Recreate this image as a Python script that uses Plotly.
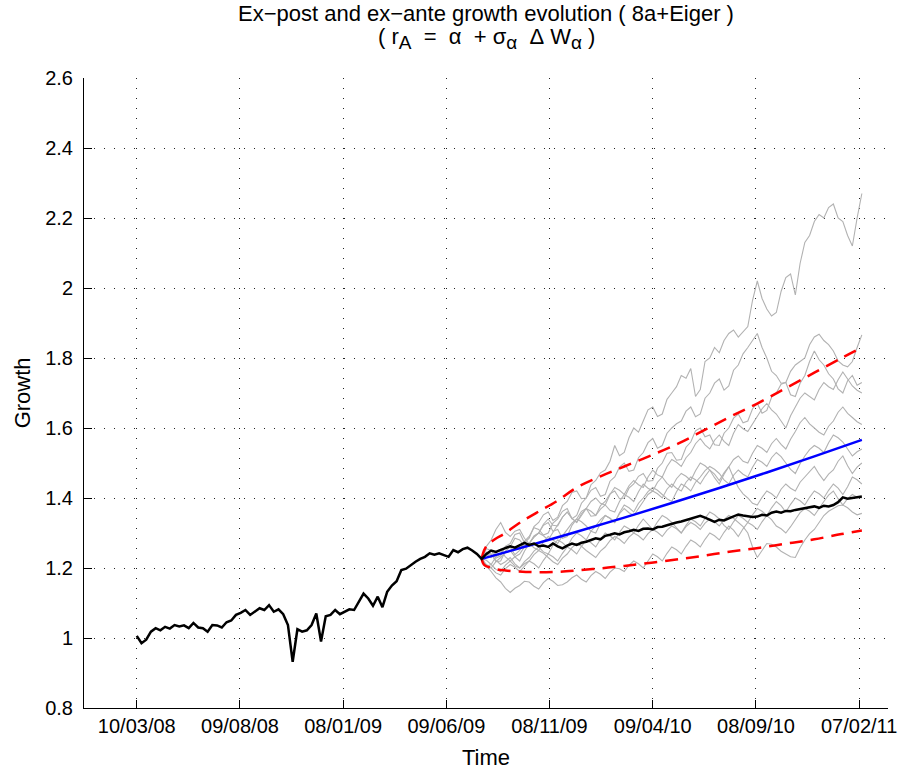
import pandas as pd
import plotly.graph_objects as go

# ---- observed (ex-post) growth ----
hist_start, split_date, end_date = "2008-03-10", "2009-07-31", "2011-02-11"

hist_growth = [
    1.006, 0.985, 0.995, 1.018, 1.028, 1.022, 1.032, 1.027, 1.037, 1.033,
    1.036, 1.028, 1.043, 1.030, 1.028, 1.018, 1.037, 1.036, 1.030, 1.045,
    1.050, 1.066, 1.072, 1.080, 1.066, 1.076, 1.085, 1.080, 1.094, 1.075,
    1.082, 1.068, 1.037, 0.932, 1.025, 1.018, 1.022, 1.037, 1.070, 0.990,
    1.062, 1.066, 1.080, 1.068, 1.076, 1.082, 1.080, 1.105, 1.127, 1.113,
    1.092, 1.118, 1.088, 1.132, 1.150, 1.162, 1.194, 1.198, 1.209, 1.218,
    1.226, 1.232, 1.242, 1.238, 1.242, 1.236, 1.232, 1.251, 1.245, 1.254,
    1.258, 1.250, 1.240, 1.226,
]

post_growth = [
    1.226, 1.240, 1.250, 1.246, 1.252, 1.256, 1.262, 1.258, 1.266, 1.272,
    1.266, 1.270, 1.262, 1.264, 1.260, 1.270, 1.262, 1.256, 1.264, 1.270,
    1.266, 1.272, 1.275, 1.280, 1.285, 1.282, 1.292, 1.295, 1.299, 1.296,
    1.302, 1.305, 1.309, 1.306, 1.312, 1.313, 1.310, 1.317, 1.318, 1.322,
    1.327, 1.330, 1.333, 1.337, 1.340, 1.346, 1.349, 1.344, 1.338, 1.332,
    1.338, 1.336, 1.342, 1.348, 1.353, 1.350, 1.348, 1.346, 1.347, 1.352,
    1.350, 1.358, 1.361, 1.358, 1.363, 1.362, 1.366, 1.368, 1.371, 1.374,
    1.376, 1.372, 1.378, 1.376, 1.380, 1.388, 1.402, 1.398, 1.400, 1.404,
    1.404,
]

# ---- simulated (ex-ante) paths, sampled weekly from the split date ----
sim_paths = [
    [1.226, 1.255, 1.25, 1.228, 1.235, 1.262, 1.27, 1.296, 1.30, 1.272, 1.285, 1.318, 1.33,
     1.352, 1.36, 1.336, 1.345, 1.378, 1.39, 1.416, 1.42, 1.398, 1.40, 1.438, 1.45, 1.472,
     1.48, 1.505, 1.55, 1.521, 1.53, 1.572, 1.60, 1.588, 1.62, 1.652, 1.66, 1.633, 1.64,
     1.682, 1.70, 1.718, 1.75, 1.742, 1.77, 1.69, 1.71, 1.79, 1.80, 1.83, 1.815, 1.85, 1.87,
     1.88, 1.86, 1.875, 1.89, 1.965, 2.02, 1.97, 1.94, 1.92, 1.93, 1.99, 2.03, 2.04, 1.98,
     2.07, 2.13, 2.15, 2.19, 2.21, 2.20, 2.23, 2.24, 2.20, 2.19, 2.15, 2.12, 2.20, 2.27],
    [1.226, 1.205, 1.21, 1.232, 1.24, 1.262, 1.26, 1.238, 1.25, 1.276, 1.29, 1.315, 1.31,
     1.294, 1.30, 1.328, 1.34, 1.362, 1.37, 1.341, 1.35, 1.385, 1.40, 1.422, 1.43, 1.405,
     1.41, 1.448, 1.46, 1.488, 1.50, 1.476, 1.48, 1.515, 1.53, 1.558, 1.57, 1.542, 1.55,
     1.585, 1.60, 1.612, 1.62, 1.648, 1.66, 1.632, 1.64, 1.685, 1.70, 1.728, 1.74, 1.708,
     1.72, 1.765, 1.78, 1.812, 1.83, 1.852, 1.87, 1.83, 1.80, 1.762, 1.75, 1.728, 1.73,
     1.762, 1.78, 1.79, 1.80, 1.838, 1.86, 1.868, 1.85, 1.838, 1.82, 1.792, 1.78, 1.775,
     1.79, 1.83, 1.866],
    [1.226, 1.245, 1.24, 1.218, 1.22, 1.248, 1.26, 1.285, 1.28, 1.262, 1.27, 1.292, 1.30,
     1.322, 1.33, 1.305, 1.31, 1.285, 1.29, 1.322, 1.34, 1.362, 1.37, 1.348, 1.35, 1.378,
     1.39, 1.412, 1.42, 1.398, 1.40, 1.428, 1.44, 1.462, 1.47, 1.448, 1.45, 1.485, 1.50,
     1.528, 1.53, 1.508, 1.51, 1.545, 1.56, 1.592, 1.60, 1.575, 1.58, 1.552, 1.55, 1.585,
     1.60, 1.628, 1.64, 1.615, 1.62, 1.655, 1.67, 1.642, 1.65, 1.688, 1.70, 1.725, 1.73,
     1.695, 1.69, 1.728, 1.75, 1.79, 1.82, 1.795, 1.78, 1.755, 1.74, 1.712, 1.70, 1.735,
     1.75, 1.722, 1.73],
    [1.226, 1.208, 1.20, 1.218, 1.23, 1.244, 1.25, 1.232, 1.22, 1.248, 1.27, 1.288, 1.30,
     1.292, 1.28, 1.302, 1.32, 1.345, 1.36, 1.342, 1.33, 1.355, 1.37, 1.362, 1.35, 1.368,
     1.38, 1.41, 1.43, 1.422, 1.41, 1.435, 1.45, 1.438, 1.43, 1.46, 1.48, 1.466, 1.46, 1.49,
     1.51, 1.502, 1.49, 1.515, 1.53, 1.555, 1.57, 1.552, 1.54, 1.565, 1.58, 1.562, 1.55,
     1.585, 1.61, 1.598, 1.59, 1.612, 1.63, 1.655, 1.67, 1.652, 1.64, 1.618, 1.60, 1.635,
     1.66, 1.685, 1.70, 1.69, 1.68, 1.71, 1.73, 1.718, 1.71, 1.738, 1.76, 1.74, 1.72, 1.708,
     1.70],
    [1.226, 1.262, 1.28, 1.31, 1.33, 1.302, 1.29, 1.305, 1.31, 1.285, 1.27, 1.288, 1.30,
     1.325, 1.34, 1.322, 1.32, 1.345, 1.36, 1.342, 1.33, 1.352, 1.37, 1.39, 1.40, 1.385,
     1.38, 1.365, 1.36, 1.39, 1.41, 1.402, 1.39, 1.418, 1.44, 1.428, 1.42, 1.445, 1.46,
     1.442, 1.43, 1.455, 1.47, 1.462, 1.45, 1.478, 1.50, 1.492, 1.48, 1.458, 1.44, 1.468,
     1.49, 1.51, 1.52, 1.505, 1.50, 1.528, 1.55, 1.542, 1.53, 1.555, 1.57, 1.553, 1.54,
     1.568, 1.59, 1.615, 1.63, 1.612, 1.60, 1.588, 1.58, 1.605, 1.62, 1.645, 1.66, 1.642,
     1.63, 1.618, 1.61],
    [1.226, 1.238, 1.23, 1.245, 1.25, 1.232, 1.22, 1.232, 1.24, 1.26, 1.27, 1.258, 1.25,
     1.275, 1.29, 1.28, 1.27, 1.292, 1.31, 1.328, 1.34, 1.332, 1.32, 1.305, 1.30, 1.328,
     1.35, 1.342, 1.33, 1.358, 1.38, 1.372, 1.36, 1.385, 1.40, 1.418, 1.43, 1.422, 1.41,
     1.398, 1.39, 1.418, 1.44, 1.432, 1.42, 1.445, 1.46, 1.478, 1.49, 1.482, 1.47, 1.452,
     1.44, 1.465, 1.48, 1.468, 1.46, 1.488, 1.51, 1.502, 1.49, 1.515, 1.53, 1.518, 1.50,
     1.482, 1.47, 1.498, 1.52, 1.538, 1.55, 1.542, 1.53, 1.558, 1.58, 1.572, 1.56, 1.538,
     1.52, 1.532, 1.54],
    [1.226, 1.222, 1.21, 1.196, 1.19, 1.208, 1.22, 1.206, 1.20, 1.218, 1.23, 1.248, 1.26,
     1.246, 1.24, 1.265, 1.28, 1.272, 1.26, 1.285, 1.30, 1.292, 1.28, 1.305, 1.32, 1.338,
     1.35, 1.342, 1.33, 1.355, 1.37, 1.358, 1.35, 1.372, 1.39, 1.41, 1.42, 1.412, 1.40,
     1.425, 1.44, 1.428, 1.42, 1.445, 1.46, 1.452, 1.44, 1.462, 1.48, 1.468, 1.45, 1.472,
     1.49, 1.458, 1.43, 1.412, 1.40, 1.385, 1.38, 1.402, 1.42, 1.412, 1.40, 1.425, 1.44,
     1.428, 1.42, 1.445, 1.46, 1.478, 1.49, 1.468, 1.45, 1.468, 1.48, 1.505, 1.52, 1.492,
     1.47, 1.488, 1.50],
    [1.226, 1.21, 1.20, 1.186, 1.18, 1.198, 1.21, 1.202, 1.19, 1.206, 1.22, 1.212, 1.20,
     1.222, 1.24, 1.232, 1.22, 1.242, 1.26, 1.252, 1.24, 1.262, 1.28, 1.272, 1.26, 1.282,
     1.30, 1.292, 1.28, 1.302, 1.32, 1.312, 1.30, 1.322, 1.34, 1.325, 1.31, 1.332, 1.35,
     1.342, 1.33, 1.315, 1.30, 1.322, 1.34, 1.332, 1.32, 1.342, 1.36, 1.352, 1.34, 1.322,
     1.31, 1.332, 1.35, 1.342, 1.33, 1.352, 1.37, 1.362, 1.35, 1.372, 1.39, 1.378, 1.36,
     1.382, 1.40, 1.392, 1.38, 1.402, 1.42, 1.412, 1.40, 1.422, 1.44, 1.428, 1.41, 1.432,
     1.46, 1.452, 1.44],
    [1.226, 1.205, 1.19, 1.172, 1.16, 1.142, 1.13, 1.142, 1.15, 1.162, 1.16, 1.148, 1.14,
     1.158, 1.17, 1.162, 1.15, 1.152, 1.16, 1.172, 1.18, 1.168, 1.16, 1.178, 1.19, 1.182,
     1.17, 1.188, 1.20, 1.198, 1.19, 1.208, 1.22, 1.212, 1.20, 1.222, 1.24, 1.232, 1.22,
     1.242, 1.26, 1.252, 1.24, 1.262, 1.28, 1.272, 1.26, 1.282, 1.30, 1.292, 1.28, 1.302,
     1.32, 1.308, 1.29, 1.312, 1.33, 1.322, 1.31, 1.332, 1.35, 1.338, 1.32, 1.312, 1.30,
     1.318, 1.34, 1.358, 1.37, 1.362, 1.35, 1.372, 1.39, 1.408, 1.42, 1.398, 1.38, 1.398,
     1.41, 1.402, 1.40],
    [1.226, 1.238, 1.24, 1.222, 1.21, 1.218, 1.23, 1.212, 1.20, 1.212, 1.22, 1.238, 1.25,
     1.242, 1.23, 1.218, 1.21, 1.228, 1.24, 1.258, 1.27, 1.262, 1.25, 1.24, 1.23, 1.248,
     1.26, 1.278, 1.29, 1.282, 1.27, 1.288, 1.30, 1.292, 1.28, 1.298, 1.31, 1.302, 1.29,
     1.308, 1.32, 1.312, 1.30, 1.318, 1.33, 1.322, 1.31, 1.328, 1.34, 1.332, 1.32, 1.338,
     1.35, 1.342, 1.33, 1.318, 1.30, 1.26, 1.23, 1.252, 1.27, 1.268, 1.26, 1.248, 1.24,
     1.232, 1.23, 1.258, 1.28, 1.298, 1.31, 1.332, 1.35, 1.362, 1.37, 1.378, 1.38, 1.372,
     1.36, 1.352, 1.356],
]

# ---- expected growth and its confidence band (days after the split date) ----
mean_days = [0, 70, 140, 210, 280, 350, 420, 490, 560]
mean_growth = [1.226, 1.2641, 1.3034, 1.3438, 1.3856, 1.4287, 1.4730, 1.5189, 1.566]

band_days = [0, 2, 5, 10, 20, 35, 55, 80, 110, 140, 175, 210, 250, 290, 330, 370,
             410, 450, 490, 530, 560]
band_upper = [1.226, 1.242, 1.256, 1.268, 1.283, 1.300, 1.328, 1.357, 1.390, 1.430, 1.462,
              1.490, 1.522, 1.556, 1.596, 1.636, 1.674, 1.716, 1.758, 1.800, 1.830]
band_lower = [1.226, 1.214, 1.207, 1.203, 1.197, 1.193, 1.190, 1.188, 1.189, 1.193, 1.199,
              1.206, 1.215, 1.225, 1.236, 1.248, 1.258, 1.270, 1.282, 1.297, 1.307]

# ---- axis ticks ----
x_tick_dates = ["2008-03-10", "2008-08-09", "2009-01-08", "2009-06-09",
                "2009-11-08", "2010-04-09", "2010-09-08", "2011-02-07"]
x_tick_labels = ["10/03/08", "09/08/08", "08/01/09", "09/06/09",
                 "08/11/09", "09/04/10", "08/09/10", "07/02/11"]
y_tick_vals = [0.8, 1.0, 1.2, 1.4, 1.6, 1.8, 2.0, 2.2, 2.4, 2.6]
y_tick_labels = ["0.8", "1", "1.2", "1.4", "1.6", "1.8", "2", "2.2", "2.4", "2.6"]

hist_dates = pd.date_range(hist_start, split_date, periods=len(hist_growth))
post_dates = pd.date_range(split_date, end_date, periods=len(post_growth))
t0 = pd.Timestamp(split_date)
mean_dates = [t0 + pd.Timedelta(days=d) for d in mean_days]
band_dates = [t0 + pd.Timedelta(days=d) for d in band_days]

fig = go.Figure()

for path in sim_paths:
    fig.add_trace(go.Scatter(x=pd.date_range(split_date, end_date, periods=len(path)),
                             y=path, mode="lines",
                             line=dict(color="rgb(178,178,178)", width=1.1)))

fig.add_trace(go.Scatter(x=mean_dates, y=mean_growth, mode="lines",
                         line=dict(color="rgb(0,0,255)", width=2.5, shape="spline")))
for band in (band_upper, band_lower):
    fig.add_trace(go.Scatter(x=band_dates, y=band, mode="lines",
                             line=dict(color="rgb(255,0,0)", width=2.5,
                                       dash="13px,8px", shape="spline")))

fig.add_trace(go.Scatter(x=list(hist_dates) + list(post_dates[1:]),
                         y=hist_growth + post_growth[1:], mode="lines",
                         line=dict(color="black", width=2.5)))

font_family = "Liberation Sans, Arial, sans-serif"
nb = "\u00a0"


def sub(s):
    return f"<sub><span style='font-size:19px'>{s}</span></sub>"


title_line1 = "Ex\u2212post and ex\u2212ante growth evolution ( 8a+Eiger )"
title_line2 = (f"( r{sub('A')}{nb}{nb}={nb}{nb}\u03b1{nb}{nb}+{nb}\u03c3{sub(chr(945))}"
               f"{nb}{nb}\u0394{nb}W{sub(chr(945))}{nb})")

grid_style = dict(showgrid=True, gridcolor="#222222", gridwidth=1, griddash="1px,9px")
axis_style = dict(ticks="inside", ticklen=8, tickcolor="black", tickwidth=1,
                  showline=True, linecolor="black", linewidth=1, mirror=False,
                  zeroline=False, tickfont=dict(size=20))

fig.update_layout(
    width=909, height=771,
    margin=dict(l=84, r=17, t=78, b=63),
    paper_bgcolor="white", plot_bgcolor="white",
    showlegend=False,
    font=dict(family=font_family, size=20, color="black"),
    xaxis=dict(
        type="date",
        range=["2007-12-23 07:00", "2011-03-21 12:00"],
        tickvals=x_tick_dates, ticktext=x_tick_labels,
        **axis_style, **grid_style,
    ),
    yaxis=dict(
        range=[0.8, 2.6],
        tickvals=y_tick_vals, ticktext=y_tick_labels,
        ticklabelstandoff=6,
        **axis_style, **grid_style,
    ),
    annotations=[
        dict(text=title_line1, xref="paper", yref="paper", x=0.5, y=1.1016,
             xanchor="center", yanchor="middle", showarrow=False,
             font=dict(size=22)),
        dict(text=title_line2, xref="paper", yref="paper", x=0.5, y=1.062,
             xanchor="center", yanchor="middle", showarrow=False,
             font=dict(size=22)),
        dict(text="Time", xref="paper", yref="paper", x=0.5, y=-0.078,
             xanchor="center", yanchor="middle", showarrow=False,
             font=dict(size=22)),
        dict(text="Growth", xref="paper", yref="paper", x=-0.0767, y=0.5,
             xanchor="center", yanchor="middle", showarrow=False, textangle=-90,
             font=dict(size=22)),
    ],
)

fig.write_html("out.html")
